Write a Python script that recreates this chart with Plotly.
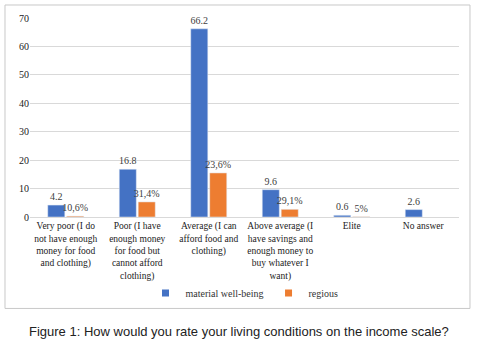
import plotly.graph_objects as go

categories = [
    "Very poor (I do<br>not have enough<br>money for food<br>and clothing)",
    "Poor (I have<br>enough money<br>for food but<br>cannot afford<br>clothing)",
    "Average (I can<br>afford food and<br>clothing)",
    "Above average (I<br>have savings and<br>enough money to<br>buy whatever I<br>want)",
    "Elite",
    "No answer",
]
material = [4.2, 16.8, 66.2, 9.6, 0.6, 2.6]
material_labels = ["4.2", "16.8", "66.2", "9.6", "0.6", "2.6"]
regious = [0.3, 5.3, 15.5, 2.7, 0.1, None]
regious_labels = ["10,6%", "31,4%", "23,6%", "29,1%", "5%", ""]
y_ticks = [0, 10, 20, 30, 40, 50, 60, 70]
series_names = ["material well-being", "regious"]
series_colors = ["#4472C4", "#ED7D31"]

serif = '"Liberation Serif", "Times New Roman", Times, serif'

fig = go.Figure()
for name, vals, labels, color in zip(series_names, [material, regious],
                                     [material_labels, regious_labels], series_colors):
    fig.add_trace(go.Bar(
        x=categories, y=vals, name=name, showlegend=False, legendgroup=name,
        marker_color=color, text=labels, textposition="outside",
        constraintext="none",
        textfont=dict(family=serif, size=10, color="#404040"), cliponaxis=False,
    ))
# legend entries with small square swatches
for name, color in zip(series_names, series_colors):
    fig.add_trace(go.Scatter(
        x=[None], y=[None], mode="markers", name=name, legendgroup=name,
        marker=dict(symbol="square", size=7, color=color),
    ))

fig.update_layout(
    width=478, height=341,
    margin=dict(l=30, r=19, t=18, b=124),
    paper_bgcolor="white", plot_bgcolor="white",
    barmode="group", bargap=0.47, bargroupgap=0.1,
    font=dict(family=serif, size=10, color="#333333"),
    showlegend=True,
    legend=dict(orientation="h", x=0.5, xanchor="center", y=-0.382, yanchor="middle",
                font=dict(family=serif, size=10, color="#333333"),
                bgcolor="rgba(0,0,0,0)", itemwidth=30, tracegroupgap=0),
    xaxis=dict(showgrid=False, showline=True, linecolor="#d9d9d9", linewidth=1,
               tickfont=dict(family=serif, size=9.5, color="#222222"), ticks="",
               automargin=False),
    yaxis=dict(range=[0, 70], tickvals=y_ticks, showgrid=True, gridcolor="#d9d9d9",
               zeroline=False, showline=False, automargin=False,
               tickfont=dict(family=serif, size=10, color="#222222"), ticklen=0),
)

fig.add_shape(type="rect", xref="paper", yref="paper",
              x0=-0.0583, x1=1.0256, y0=-0.4595, y1=1.0654,
              line=dict(color="#c8c8c8", width=1), fillcolor="rgba(0,0,0,0)", layer="above")

fig.add_annotation(
    text="Figure 1: How would you rate your living conditions on the income scale?",
    xref="paper", yref="paper", x=0.488, y=-0.573, xanchor="center", yanchor="middle",
    showarrow=False, font=dict(family='"Liberation Sans", Arial, sans-serif', size=13, color="#222222"),
)

fig.write_html("out.html", config={"displayModeBar": False},
               post_script="document.body.style.margin='0';")
